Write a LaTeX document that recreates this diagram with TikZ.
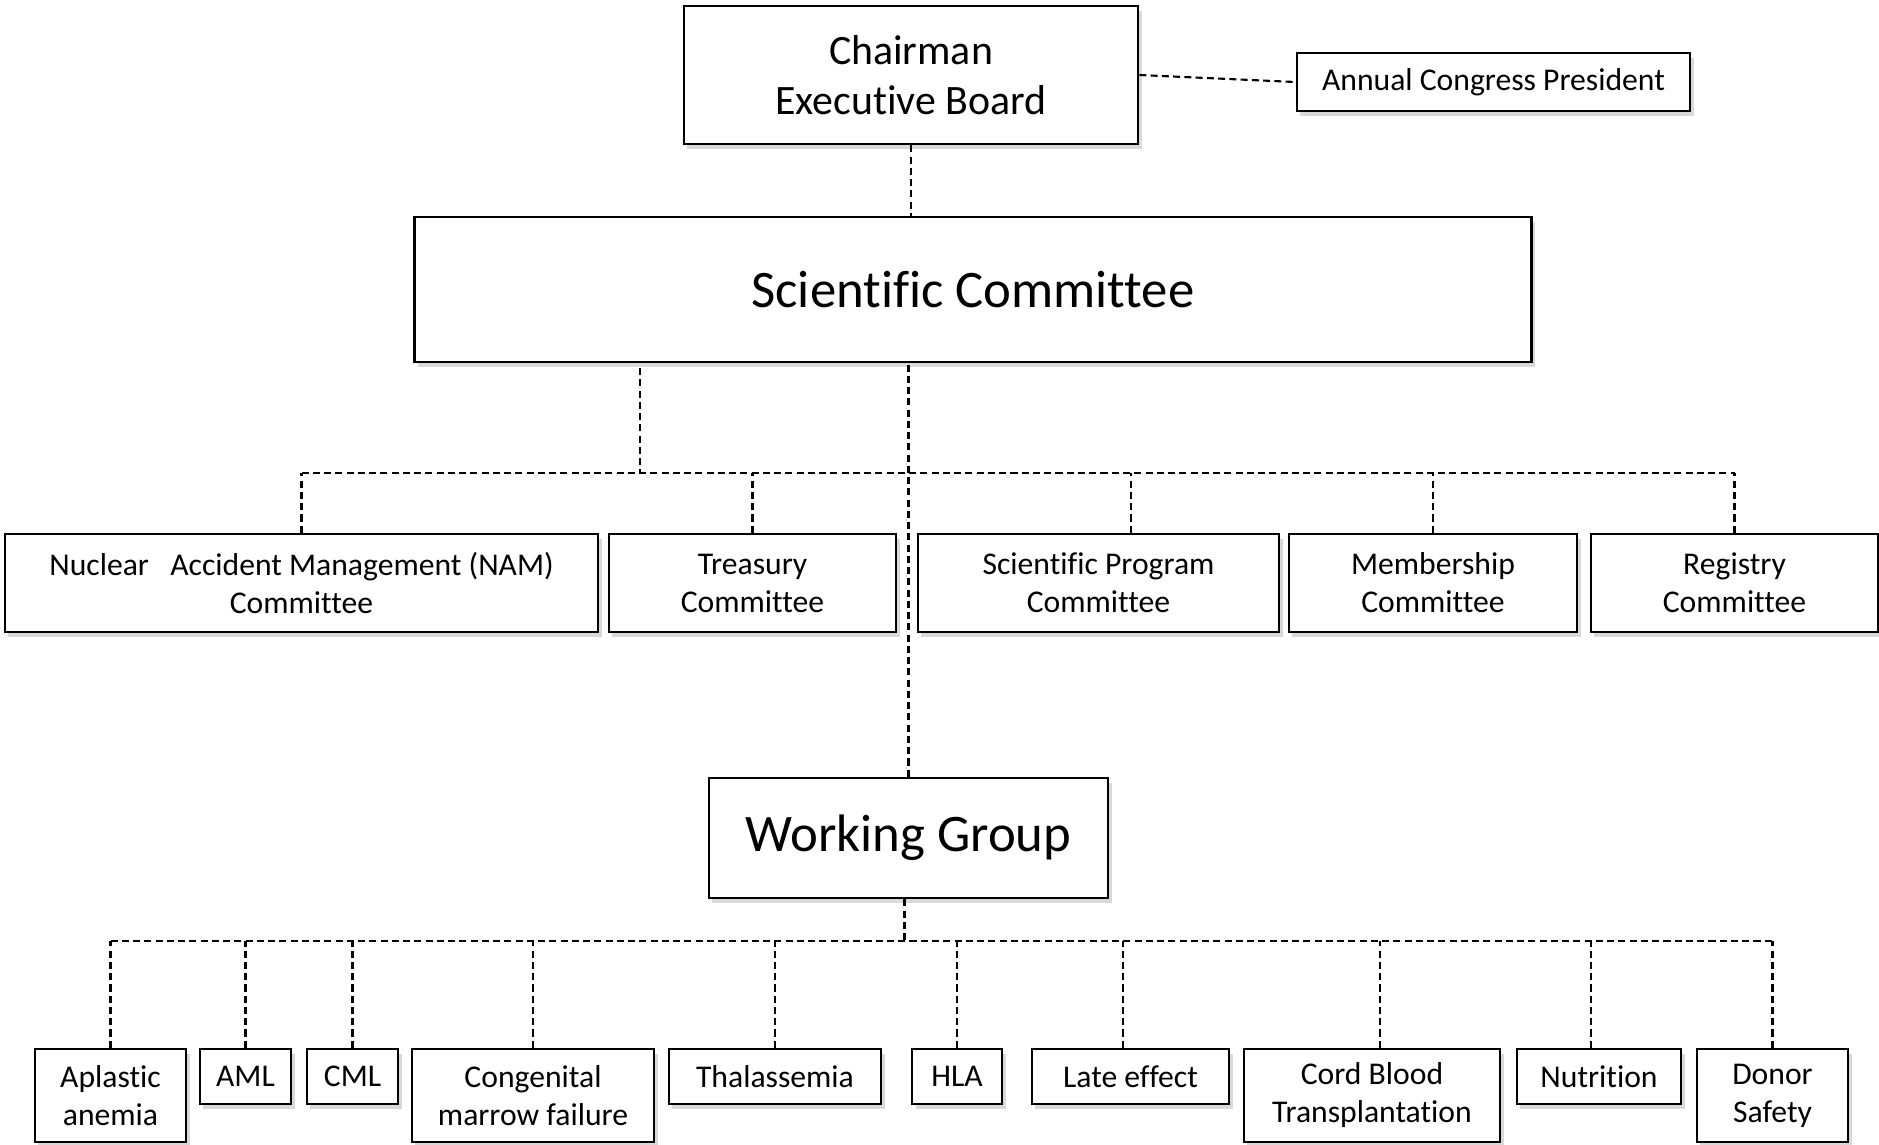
\documentclass[tikz,border=0pt]{standalone}
\usepackage{fontspec}
\setmainfont{Carlito}[Ligatures=NoCommon]
\usetikzlibrary{shadows,calc}
\begin{document}
\begin{tikzpicture}[x=0.01cm,y=-0.01cm,
  box/.style={draw=black, line width=0.7pt, fill=white, inner sep=0pt, align=center,
    drop shadow={shadow xshift=1pt,shadow yshift=-1.5pt,fill=black,opacity=0.15}},
  conn/.style={draw=black, line width=0.6pt, dash pattern=on 2pt off 1.2pt},
  small/.style={font=\fontsize{9}{10.8}\selectfont},
  big/.style={font=\fontsize{15}{18}\selectfont},
  mid/.style={font=\fontsize{11.9}{14.2}\selectfont},
  rowA/.style={box, small, minimum height=0.98cm},
  tall/.style={box, small, minimum height=0.93cm},
  short/.style={box, small, minimum height=0.55cm}]
\useasboundingbox (0,0) rectangle (1879,1144);

% top
\node[box, mid, minimum width=4.54cm, minimum height=1.38cm] (chair) at (911,75) {Chairman\\Executive Board};
\node[box, small, minimum width=3.93cm, minimum height=0.58cm] (annual) at (1493.5,82) {Annual Congress President};
\node[box, big, minimum width=11.16cm, minimum height=1.45cm] (sci) at (973,289.5) {Scientific Committee};

% committees
\node[rowA, minimum width=5.93cm] (nam) at (301.5,583) {Nuclear\hspace{0.45em} Accident Management (NAM)\\Committee};
\node[rowA, minimum width=2.87cm] (tre) at (752.5,583) {Treasury\\Committee};
\node[rowA, minimum width=3.61cm] (spc) at (1098.5,583) {Scientific Program\\Committee};
\node[rowA, minimum width=2.88cm] (mem) at (1433,583) {Membership\\Committee};
\node[rowA, minimum width=2.87cm] (reg) at (1734.5,583) {Registry\\Committee};

% working group
\node[box, big, minimum width=3.99cm, minimum height=1.2cm] (wg) at (908.5,838) {Working Group};

% groups
\node[tall, minimum width=1.51cm] (apl) at (110.5,1095.5) {Aplastic\\anemia};
\node[short, minimum width=0.91cm] (aml) at (245.5,1076.5) {AML};
\node[short, minimum width=0.91cm] (cml) at (352.5,1076.5) {CML};
\node[tall, minimum width=2.42cm] (con) at (533,1095.5) {Congenital\\marrow failure};
\node[short, minimum width=2.12cm] (tha) at (775,1076.5) {Thalassemia};
\node[short, minimum width=0.90cm] (hla) at (957,1076.5) {HLA};
\node[short, minimum width=1.97cm] (lat) at (1130.5,1076.5) {Late effect};
\node[tall, minimum width=2.56cm] (cord) at (1372,1095.5) {Cord Blood\\Transplantation};
\node[short, minimum width=1.64cm] (nut) at (1599,1076.5) {Nutrition};
\node[tall, minimum width=1.51cm] (don) at (1772.5,1095.5) {Donor\\Safety};

% connectors top
\draw[conn] (chair.east) -- (annual.west);
\draw[conn] (chair.south) -- (chair.south |- sci.north);

\coordinate (bus) at (0,473);
\coordinate (sciL) at (640,368);
\draw[conn] (sciL) -- (sciL |- bus);
\draw[conn] (nam.north |- bus) -- (reg.north |- bus);
\draw[conn] (wg.north) -- (wg.north |- sci.south);
\foreach \n in {nam,tre,mem,reg}{\draw[conn] (\n.north) -- (\n.north |- bus);}
\coordinate (spcTop) at ($(spc.north)+(32.5,0)$);
\draw[conn] (spcTop) -- (spcTop |- bus);

% connectors bottom
\coordinate (bus2) at (0,941);
\coordinate (wgB) at ($(wg.south)+(-4,0)$);
\draw[conn] (wgB) -- (wgB |- bus2);
\draw[conn] (apl.north |- bus2) -- (don.north |- bus2);
\foreach \n in {apl,aml,cml,con,tha,hla,don}{\draw[conn] (\n.north) -- (\n.north |- bus2);}
\coordinate (latTop) at ($(lat.north)+(-7.5,0)$);
\draw[conn] (latTop) -- (latTop |- bus2);
\coordinate (cordTop) at ($(cord.north)+(8,0)$);
\draw[conn] (cordTop) -- (cordTop |- bus2);
\coordinate (nutTop) at ($(nut.north)+(-8,0)$);
\draw[conn] (nutTop) -- (nutTop |- bus2);
\end{tikzpicture}
\end{document}
